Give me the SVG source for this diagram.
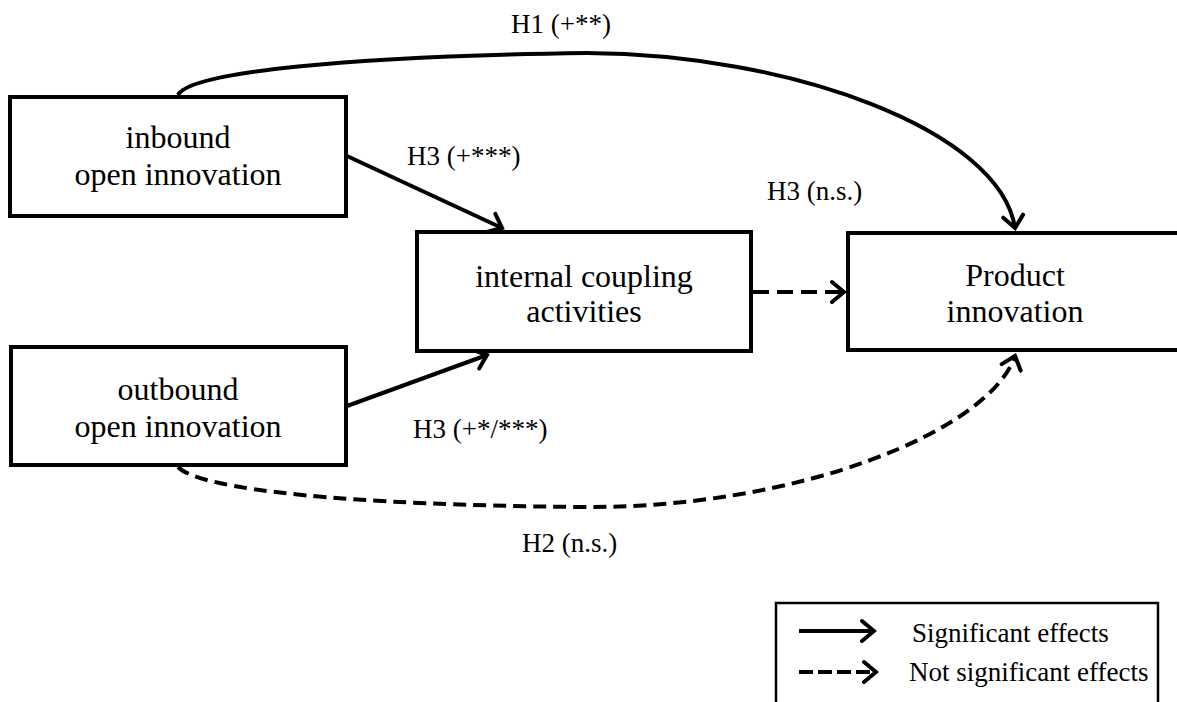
<svg xmlns="http://www.w3.org/2000/svg" width="1177" height="702" viewBox="0 0 1177 702">
<style>
.box{fill:#fff;stroke:#000;stroke-width:4}
.t{font-family:"Liberation Serif","Times New Roman",serif;font-size:32px;fill:#000;text-anchor:middle}
.lbl{font-family:"Liberation Serif","Times New Roman",serif;font-size:27px;fill:#000}
.c{fill:none;stroke:#000;stroke-width:4}
.d{stroke-dasharray:13 7}
</style>
<defs>
<marker id="ah" markerUnits="userSpaceOnUse" viewBox="-16 -13 19 26" refX="0" refY="0" markerWidth="19" markerHeight="26" orient="auto">
<path d="M-12,-10 L0,0 L-12,10" fill="none" stroke="#000" stroke-width="4" stroke-dasharray="none" stroke-linecap="round" stroke-linejoin="miter"/>
</marker>
</defs>
<rect width="1177" height="702" fill="#fff"/>
<g id="connectors">
<path class="c" d="M178,95 C190,72 350,56 587,53 C790,54 1000,130 1015,228" marker-end="url(#ah)"/>
<path class="c" d="M347,156 L502,228" marker-end="url(#ah)"/>
<path class="c" d="M347,406 L487,355" marker-end="url(#ah)"/>
<path class="c d" d="M753,292 L844,292" style="stroke-dasharray:16 8" marker-end="url(#ah)"/>
<path class="c d" d="M178,467 C200,490 350,505 580,507 C800,509 990,430 1015,356" marker-end="url(#ah)"/>
</g>
<g id="inbound">
<rect class="box" x="10" y="97" width="336" height="119"/>
<text class="t" x="178" y="148">inbound</text>
<text class="t" x="178" y="185">open innovation</text>
</g>
<g id="outbound">
<rect class="box" x="11" y="347" width="335" height="118"/>
<text class="t" x="178" y="400">outbound</text>
<text class="t" x="178" y="437">open innovation</text>
</g>
<g id="internal">
<rect class="box" x="417" y="232" width="334" height="119"/>
<text class="t" x="584" y="287">internal coupling</text>
<text class="t" x="584" y="322">activities</text>
</g>
<g id="product">
<rect class="box" x="848" y="233" width="340" height="117"/>
<text class="t" x="1015" y="286">Product</text>
<text class="t" x="1015" y="322">innovation</text>
</g>
<g id="labels">
<text class="lbl" x="511" y="33">H1 (+**)</text>
<text class="lbl" x="407" y="165">H3 (+***)</text>
<text class="lbl" x="767" y="200">H3 (n.s.)</text>
<text class="lbl" x="413" y="438">H3 (+*/***)</text>
<text class="lbl" x="522" y="552">H2 (n.s.)</text>
</g>
<g id="legend">
<rect x="776" y="603" width="382" height="110" fill="#fff" stroke="#000" stroke-width="2.5"/>
<path class="c" d="M799,631 L874,631" marker-end="url(#ah)"/>
<path class="c" d="M799,672 L876,672" style="stroke-dasharray:14 5" marker-end="url(#ah)"/>
<text class="lbl" x="912" y="642">Significant effects</text>
<text class="lbl" x="909" y="681">Not significant effects</text>
</g>
</svg>
